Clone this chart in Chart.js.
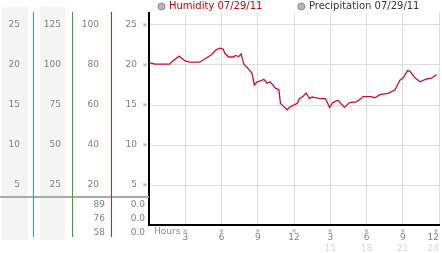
<!DOCTYPE html>
<html>
<head>
<meta charset="utf-8">
<script src="https://cdn.jsdelivr.net/npm/chart.js@4"></script>
<style>
  html, body { margin: 0; padding: 0; background: #fff; }
</style>
</head>
<body>
<canvas id="humidityChart" width="442" height="253"></canvas>
<script>
// hours since midnight, 07/29/11
const hours = [0, 0.5, 1.71, 1.9, 2.49, 2.98, 3.37, 4.2, 4.61, 5.14, 5.55, 5.86, 6.13, 6.3, 6.6, 7.02, 7.13, 7.43, 7.62, 7.85,
  8.12, 8.53, 8.72, 8.95, 9.22, 9.5, 9.78, 10.02, 10.19, 10.46, 10.75, 10.88, 11.16, 11.43, 11.71, 11.99, 12.26, 12.45,
  12.73, 13.0, 13.28, 13.5, 13.84, 14.17, 14.61, 14.94, 15.22, 15.63, 16.18, 16.6, 17.15, 17.56, 17.7, 18.39, 18.7,
  19.11, 19.8, 20.36, 20.77, 21.04, 21.4, 21.6, 22.01, 22.43, 22.97, 23.39, 23.8];
// relative humidity, %
const humidity = [81.2, 80.4, 80.4, 81.6, 84.4, 82, 81.4, 81.4, 83, 85, 87.6, 88.4, 88, 85.6, 84, 84, 84.8, 84.2, 85.6, 80.4,
  78.8, 75.8, 70, 71.6, 72, 72.8, 70.8, 71.6, 70.4, 68.4, 67.6, 60.8, 59.2, 57.6, 59.2, 60, 60.8, 63.2,
  64.2, 66, 63.2, 64, 63.6, 63.2, 63.2, 58.8, 61.2, 62.4, 58.8, 61.2, 61.6, 63.2, 64.2, 64.2, 63.6,
  65.2, 65.8, 67.6, 72.4, 73.6, 77.2, 76.8, 73.6, 71.6, 73, 73.4, 75.2];
const precipitation = [];

const legendLabels = ['Humidity 07/29/11', 'Precipitation 07/29/11'];
const hourTicks = [3, 6, 9, 12, 15, 18, 21, 24];
const humidityTicks = [20, 40, 60, 80, 100];
// max / avg / min rows under the scales
const summaryHumidity = ['89', '76', '58'];
const summaryPrecip = ['0.0', '0.0', '0.0'];

const FONT = '"DejaVu Sans", Verdana, sans-serif';
const tickFont = { family: FONT, size: 9 };
const tickColor = '#808080';

function hourLabel(v) {
  if (!hourTicks.includes(v)) return '';
  return String(v > 12 ? v - 12 : v);
}

// fixed box sizes, and no extra label padding pushed onto the chart area
function fixWidth(w) {
  return s => { s.width = w; s.paddingTop = 0; s.paddingBottom = 0; };
}
function fixHeight(h) {
  return s => { s.height = h; s.paddingLeft = 0; s.paddingRight = 0; };
}

const panelPlugin = {
  id: 'panel',
  beforeDraw(chart) {
    const ctx = chart.ctx;
    ctx.save();
    ctx.fillStyle = '#f4f4f4';
    ctx.fillRect(2, 7, 26, 233);
    ctx.fillRect(40, 7, 25, 233);
    ctx.restore();
  },
  afterDraw(chart) {
    const { ctx, chartArea, scales } = chart;
    const y = scales.y;
    const sepY = Math.round(y.getPixelForValue(14));
    const lineBottom = 237;
    ctx.save();

    // separator above the summary rows
    ctx.strokeStyle = '#a8a8a8';
    ctx.lineWidth = 2;
    ctx.beginPath();
    ctx.moveTo(0, sepY);
    ctx.lineTo(chartArea.left, sepY);
    ctx.stroke();

    // coloured column rules
    [['y1', '#2b9ad6'], ['y2', '#2ea82e'], ['y3', '#d02020']].forEach(([id, c]) => {
      const x = Math.round(scales[id].right) + 0.5;
      ctx.strokeStyle = c;
      ctx.lineWidth = 1;
      ctx.beginPath();
      ctx.moveTo(x, chartArea.top - 1);
      ctx.lineTo(x, lineBottom);
      ctx.stroke();
    });

    // summary rows
    ctx.font = '9px ' + FONT;
    ctx.fillStyle = tickColor;
    ctx.textAlign = 'right';
    ctx.textBaseline = 'middle';
    for (let i = 0; i < summaryHumidity.length; i++) {
      const ty = sepY + 7.5 + i * 14;
      ctx.fillText(summaryHumidity[i], scales.y3.right - 6, ty);
      ctx.fillText(summaryPrecip[i], y.right - 4, ty);
    }

    // small tick glyphs
    ctx.font = '6px ' + FONT;
    ctx.fillStyle = '#999';
    ctx.textAlign = 'center';
    humidityTicks.forEach(v => ctx.fillText('\u203B', y.right - 4, y.getPixelForValue(v)));
    hourTicks.forEach(v => ctx.fillText('\u203B', Math.min(scales.x.getPixelForValue(v), chartArea.right - 3), chartArea.bottom + 6));

    // axis name
    ctx.font = '9px ' + FONT;
    ctx.fillStyle = '#888';
    ctx.textAlign = 'left';
    ctx.fillText('Hours', chartArea.left + 5, chartArea.bottom + 7);
    ctx.restore();
  }
};

new Chart(document.getElementById('humidityChart'), {
  type: 'line',
  data: {
    datasets: [{
      label: legendLabels[0],
      data: hours.map((h, i) => ({ x: h, y: humidity[i] })),
      borderColor: '#c8102e',
      borderWidth: 1.3,
      pointRadius: 0,
      tension: 0,
      yAxisID: 'y'
    }, {
      label: legendLabels[1],
      data: precipitation,
      borderColor: '#555',
      pointRadius: 0,
      yAxisID: 'y'
    }]
  },
  options: {
    responsive: false,
    animation: false,
    devicePixelRatio: 1,
    layout: { padding: { left: 0, right: 3, top: 0, bottom: 0 } },
    plugins: {
      tooltip: { enabled: false },
      legend: {
        position: 'top',
        fullSize: false,
        maxHeight: 13,
        labels: {
          usePointStyle: true,
          pointStyle: 'circle',
          boxWidth: 5,
          boxHeight: 5,
          padding: 1.5,
          font: { family: FONT, size: 10 },
          generateLabels: chart => chart.data.datasets.map((ds, i) => ({
            text: i === 0 ? ds.label + '           ' : ds.label + '   ',
            fillStyle: '#b4b4b4',
            strokeStyle: '#8c8c8c',
            lineWidth: 1,
            pointStyle: 'circle',
            fontColor: i === 0 ? '#cc0000' : '#333',
            hidden: false,
            datasetIndex: i
          }))
        }
      }
    },
    scales: {
      x: {
        type: 'linear',
        position: 'bottom',
        weight: 0,
        min: 0,
        max: 24,
        afterFit: fixHeight(18),
        afterBuildTicks: s => { s.ticks = [0].concat(hourTicks).map(v => ({ value: v })); },
        ticks: { autoSkip: false, maxRotation: 0, align: 'inner', color: tickColor, font: tickFont, padding: 7, callback: hourLabel },
        grid: { color: '#dcdcdc', drawTicks: false },
        border: { color: '#000', width: 2 }
      },
      x2: {
        type: 'linear',
        position: 'bottom',
        weight: 1,
        min: 0,
        max: 24,
        afterFit: fixHeight(10),
        afterBuildTicks: s => { s.ticks = [0].concat(hourTicks.filter(v => v > 12)).map(v => ({ value: v })); },
        ticks: { autoSkip: false, maxRotation: 0, align: 'inner', color: '#d8d8d8', font: tickFont, padding: 0,
          callback: v => v === 0 ? '' : String(v) },
        grid: { display: false, drawTicks: false },
        border: { display: false }
      },
      y: {
        position: 'left',
        weight: 0,
        min: 0,
        max: 106,
        afterFit: fixWidth(38),
        afterBuildTicks: s => { s.ticks = [0].concat(humidityTicks).map(v => ({ value: v })); },
        ticks: { color: tickColor, font: tickFont, padding: 12, callback: v => v === 0 ? '' : String(v / 4) },
        grid: { color: '#dcdcdc', drawTicks: false },
        border: { color: '#000', width: 2 }
      },
      y3: {
        position: 'left',
        weight: 1,
        min: 0,
        max: 106,
        afterFit: fixWidth(39),
        afterBuildTicks: s => { s.ticks = humidityTicks.map(v => ({ value: v })); },
        ticks: { color: tickColor, font: tickFont, padding: 12, callback: v => String(v) },
        grid: { display: false, drawTicks: false },
        border: { display: false }
      },
      y2: {
        position: 'left',
        weight: 2,
        min: 0,
        max: 106,
        afterFit: fixWidth(39),
        afterBuildTicks: s => { s.ticks = humidityTicks.map(v => ({ value: v })); },
        ticks: { color: tickColor, font: tickFont, padding: 11, callback: v => String(v * 1.25) },
        grid: { display: false, drawTicks: false },
        border: { display: false }
      },
      y1: {
        position: 'left',
        weight: 3,
        min: 0,
        max: 106,
        afterFit: fixWidth(33),
        afterBuildTicks: s => { s.ticks = humidityTicks.map(v => ({ value: v })); },
        ticks: { color: tickColor, font: tickFont, padding: 13, callback: v => String(v / 4) },
        grid: { display: false, drawTicks: false },
        border: { display: false }
      }
    }
  },
  plugins: [panelPlugin]
});
</script>
</body>
</html>
